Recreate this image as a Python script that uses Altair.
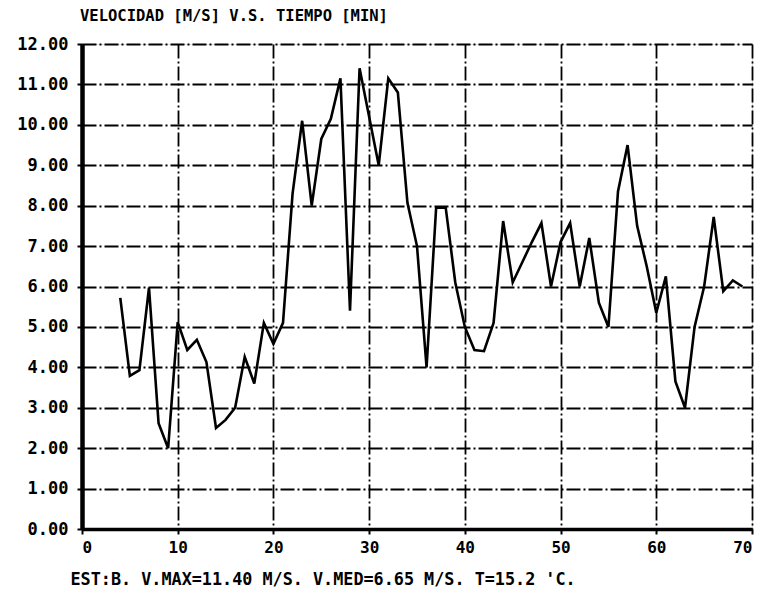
import altair as alt
import pandas as pd

minutes = list(range(4, 70))
velocity = [5.72, 3.79, 3.93, 5.97, 2.62, 2.0, 5.12, 4.43, 4.68, 4.13,
            2.5, 2.7, 3.0, 4.26, 3.6, 5.1, 4.58, 5.1, 8.3, 10.1,
            8.0, 9.65, 10.15, 11.15, 5.4, 11.4, 10.2, 9.0, 11.15, 10.8,
            8.07, 7.0, 4.0, 7.95, 7.95, 6.1, 5.0, 4.43, 4.4, 5.1,
            7.62, 6.1, 6.6, 7.1, 7.57, 6.0, 7.1, 7.57, 6.0, 7.2,
            5.6, 5.0, 8.35, 9.5, 7.5, 6.5, 5.35, 6.25, 3.65, 3.0,
            5.0, 6.0, 7.72, 5.88, 6.15, 6.0]

x_ticks = [0, 10, 20, 30, 40, 50, 60, 70]
y_ticks = [0, 1, 2, 3, 4, 5, 6, 7, 8, 9, 10, 11, 12]

title_text = "VELOCIDAD [M/S] V.S. TIEMPO [MIN]"
caption_text = "EST:B. V.MAX=11.40 M/S. V.MED=6.65 M/S. T=15.2 'C."

df = pd.DataFrame({"t": minutes, "v": velocity})

FONT = "DejaVu Sans Mono"
DASH = [14, 3, 2, 3]

chart = alt.Chart(df).mark_line(color="black", strokeWidth=2.6, strokeJoin="miter").encode(
    x=alt.X("t:Q",
            scale=alt.Scale(domain=[0, 70], nice=False),
            axis=alt.Axis(values=x_ticks, format="d", grid=True,
                          gridColor="black", gridDash=DASH, gridWidth=1.8, gridOpacity=1,
                          domainColor="black", domainWidth=3.5,
                          tickColor="black", tickSize=5, tickWidth=2,
                          labelFont=FONT, labelFontWeight="bold", labelFontSize=16,
                          labelColor="black", labelPadding=5,
                          title=caption_text, titleFont=FONT, titleFontWeight="bold",
                          titleFontSize=16.8, titleColor="black", titleAnchor="start",
                          titleAlign="left", titleBaseline="alphabetic",
                          titleX=-12, titleY=55)),
    y=alt.Y("v:Q",
            scale=alt.Scale(domain=[0, 12], nice=False),
            axis=alt.Axis(values=y_ticks, format=".2f", grid=True,
                          gridColor="black", gridDash=DASH, gridWidth=1.8, gridOpacity=1,
                          domainColor="black", domainWidth=4.5,
                          tickColor="black", tickSize=5, tickWidth=2,
                          labelFont=FONT, labelFontWeight="bold", labelFontSize=17,
                          labelColor="black", labelPadding=9, title=None)),
).properties(
    width=670,
    height=485,
    title=alt.TitleParams(title_text, font=FONT, fontWeight="bold", fontSize=15.5,
                          color="black", anchor="start", frame="group", dx=-2, offset=11),
    padding={"left": 82, "top": 44, "right": 11, "bottom": 67},
    autosize=alt.AutoSizeParams(type="none"),
).configure_view(stroke=None).configure(background="white")

chart.save("out.html", embed_options={"renderer": "svg", "actions": False})
